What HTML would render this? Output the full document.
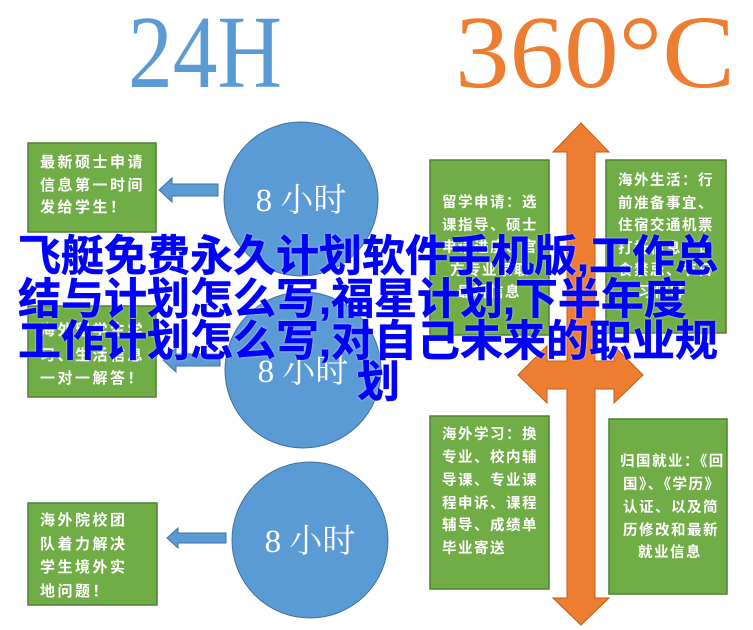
<!DOCTYPE html>
<html><head><meta charset="utf-8"><style>
html,body{margin:0;padding:0;background:#fff;}
body{width:753px;height:630px;position:relative;overflow:hidden;}
svg{position:absolute;left:0;top:0;}
.ov{position:absolute;left:0;white-space:nowrap;font-family:"Liberation Sans","Noto Sans CJK SC",sans-serif;font-weight:bold;font-size:43px;color:#0000FF;line-height:43px;-webkit-text-stroke:0.5px #0000FF;text-shadow:0 0 2px #fff;}
</style></head><body>
<svg width="753" height="630" viewBox="0 0 753 630" xmlns="http://www.w3.org/2000/svg">
<text x="128" y="87" font-family="Liberation Serif,serif" font-size="104" fill="#5B9BD5" textLength="154" lengthAdjust="spacingAndGlyphs">24H</text>
<text x="455" y="87" font-family="Liberation Serif,serif" font-size="104" fill="#ED7D31" textLength="280" lengthAdjust="spacingAndGlyphs">360°C</text>

<g fill="#70AD47" stroke="#507E32" stroke-width="1.5">
<rect x="28" y="143" width="128" height="89"/>
<rect x="28" y="306" width="128" height="91"/>
<rect x="28" y="503" width="129" height="102"/>
<rect x="430" y="160" width="119" height="175"/>
<rect x="606" y="160" width="120" height="173"/>
<rect x="430" y="416" width="119" height="173"/>
<rect x="609" y="419" width="118" height="175"/>
</g>
<g fill="#5B9BD5" stroke="#41719C" stroke-width="1">
<circle cx="301" cy="199" r="77"/>
<circle cx="303" cy="370" r="78"/>
<circle cx="310" cy="540" r="78"/>
<polygon points="159,190 172,178 172,184 218,184 218,196 172,196 172,202"/>
<polygon points="163,360 176,348 176,354 220,354 220,366 176,366 176,372"/>
<polygon points="167,538 178,528 178,533 226,533 226,543 178,543 178,548"/>
</g>
<polygon fill="#ED7D31" stroke="#C55A11" stroke-width="1" points="581,123 609,152 595,152 595,361 614,361 614,346 643,375 614,403 614,389 595,389 595,598 609,598 581,625 553,598 567,598 567,389 547,389 547,403 518,375 547,346 547,361 567,361 567,152 553,152"/>

<g font-family="Liberation Serif,'Noto Serif CJK SC',serif" font-size="33" fill="#fff" text-anchor="middle">
<text x="301" y="211">8 小时</text>
<text x="303" y="382">8 小时</text>
<text x="310" y="552">8 小时</text>
</g>

<g font-family="Liberation Sans,'Noto Sans CJK SC',sans-serif" font-size="15" font-weight="bold" fill="#fff" letter-spacing="2.5">
<text x="40" y="167">最新硕士申请</text>
<text x="40" y="190">信息第一时间</text>
<text x="40" y="212">发给学生！</text>
<text x="40" y="335">海外留学生学</text>
<text x="40" y="360">习、生活信息</text>
<text x="40" y="383">一对一解答！</text>
<text x="40" y="525">海外院校团</text>
<text x="40" y="549">队着力解决</text>
<text x="40" y="572">学生境外实</text>
<text x="40" y="596">地问题！</text>
</g>
<g font-family="Liberation Sans,'Noto Sans CJK SC',sans-serif" font-size="14.5" font-weight="bold" fill="#fff" letter-spacing="1.5">
<text x="442" y="207">留学申请：选</text>
<text x="442" y="230">课指导、硕士</text>
<text x="442" y="252">申请进度、官</text>
<text x="450" y="275">方专业录取</text>
<text x="457" y="297">最新信息</text>
<text x="618" y="185">海外生活：行</text>
<text x="618" y="208">前准备事宜、</text>
<text x="618" y="230">住宿交通机票</text>
<text x="618" y="253">打折信息、饮</text>
<text x="618" y="275">食禁忌、节日</text>
<text x="638" y="297">习俗等</text>
<text x="442" y="439">海外学习：换</text>
<text x="442" y="462">专业、校内辅</text>
<text x="442" y="485">导课、专业课</text>
<text x="442" y="508">程申诉、课程</text>
<text x="442" y="530">辅导、成绩单</text>
<text x="442" y="553">毕业寄送</text>
<text x="620" y="466">归国就业：《回</text>
<text x="623" y="489">国》、《学历》</text>
<text x="623" y="512">认证、以及简</text>
<text x="623" y="535">历修改和最新</text>
<text x="638" y="557">就业信息</text>
</g>
</svg>
<div class="ov" style="top:236px;left:18px;">飞艇免费永久计划软件手机版,工作总</div>
<div class="ov" style="top:279px;left:18px;">结与计划怎么写,福星计划,下半年度</div>
<div class="ov" style="top:321px;left:18px;">工作计划怎么写,对自己未来的职业规</div>
<div class="ov" style="top:362px;left:357px;">划</div>
</body></html>
